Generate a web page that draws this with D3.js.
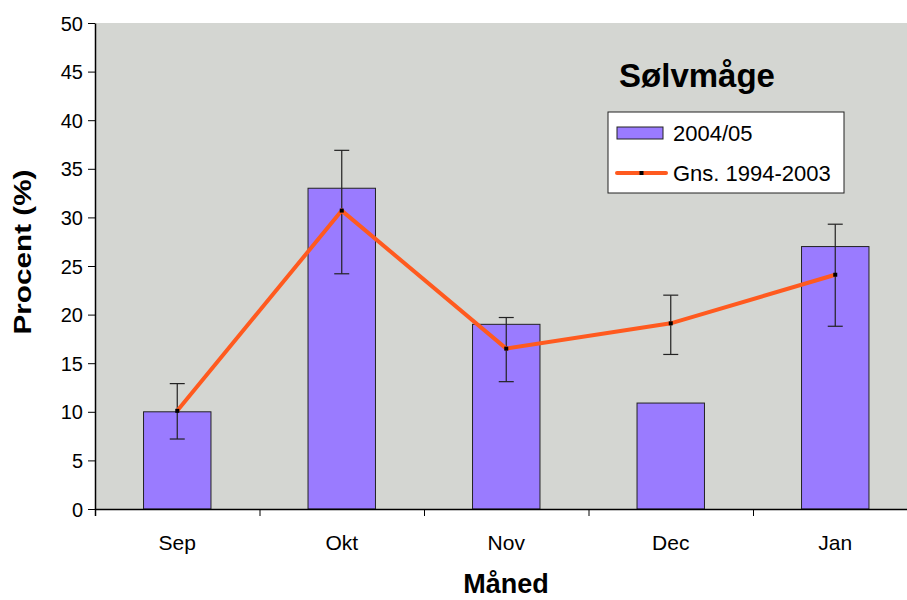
<!DOCTYPE html>
<html>
<head>
<meta charset="utf-8">
<script src="https://cdn.jsdelivr.net/npm/d3@7"></script>
<style>
    body { margin: 0; background: #fff; }
    text { font-family: "Liberation Sans", Arial, sans-serif; fill: #000; }
</style>
</head>
<body>
<svg id="chart" width="907" height="600"></svg>
<script>
// data
const months = ["Sep", "Okt", "Nov", "Dec", "Jan"];
const season = [10, 33, 19, 10.9, 27];          // 2004/05 bars
const mean = [10.1, 30.7, 16.5, 19.1, 24.1];    // Gns. 1994-2003
const errLow = [7.2, 24.2, 13.1, 15.9, 18.8];
const errHigh = [12.9, 36.9, 19.7, 22.0, 29.3];
const yTicks = [0, 5, 10, 15, 20, 25, 30, 35, 40, 45, 50];

const cfg = {
    left: 95,
    right: 917.5,
    top: 23,
    bottom: 509,
    barColor: "#9a7bff",
    lineColor: "#ff5a1f",
    plotBg: "#d4d6d2",
};

const svg = d3.select("#chart");

const x = d3.scaleBand().domain(months).range([cfg.left, cfg.right]);
const y = d3.scaleLinear().domain([0, 50]).range([cfg.bottom, cfg.top]);
const barW = x.bandwidth() * 0.41;
const cx = m => x(m) + x.bandwidth() / 2;

// plot background
svg.append("rect")
    .attr("x", cfg.left)
    .attr("y", cfg.top)
    .attr("width", cfg.right - cfg.left)
    .attr("height", cfg.bottom - cfg.top)
    .attr("fill", cfg.plotBg);

// bars
svg.append("g")
    .selectAll("rect")
    .data(season)
    .join("rect")
    .attr("x", (d, i) => cx(months[i]) - barW / 2)
    .attr("y", d => y(d))
    .attr("width", barW)
    .attr("height", d => y(0) - y(d))
    .attr("fill", cfg.barColor)
    .attr("stroke", "#222")
    .attr("stroke-width", 1);

// error bars
const err = svg.append("g").attr("stroke", "#222").attr("stroke-width", 1.2);
months.forEach((m, i) => {
    err.append("line")
        .attr("x1", cx(m)).attr("x2", cx(m))
        .attr("y1", y(errLow[i])).attr("y2", y(errHigh[i]));
    [errLow[i], errHigh[i]].forEach(v => {
        err.append("line")
            .attr("x1", cx(m) - 7.5).attr("x2", cx(m) + 7.5)
            .attr("y1", y(v)).attr("y2", y(v));
    });
});

// mean line
const line = d3.line()
    .x((d, i) => cx(months[i]))
    .y(d => y(d));
svg.append("path")
    .datum(mean)
    .attr("d", line)
    .attr("fill", "none")
    .attr("stroke", cfg.lineColor)
    .attr("stroke-width", 4);

svg.append("g")
    .selectAll("rect")
    .data(mean)
    .join("rect")
    .attr("x", (d, i) => cx(months[i]) - 2)
    .attr("y", d => y(d) - 2)
    .attr("width", 4)
    .attr("height", 4)
    .attr("fill", "#000");

// y axis
const yAxis = svg.append("g")
    .attr("transform", `translate(${cfg.left},0)`)
    .call(d3.axisLeft(y).tickValues(yTicks).tickSize(7).tickPadding(5).tickSizeOuter(0));
yAxis.select(".domain").attr("stroke", "#000").attr("stroke-width", 1.5);
yAxis.selectAll("text").style("font-size", "20px").attr("dy", "0.35em");

// x axis: ticks between categories, labels centred
const xi = d3.scaleLinear().domain([0, months.length]).range([cfg.left, cfg.right]);
const xAxis = svg.append("g")
    .attr("transform", `translate(0,${cfg.bottom})`)
    .call(d3.axisBottom(xi).tickValues(d3.range(months.length + 1)).tickSize(7).tickFormat(""));
xAxis.select(".domain").attr("stroke", "#000").attr("stroke-width", 1.5);

svg.append("g")
    .selectAll("text")
    .data(months)
    .join("text")
    .attr("x", d => cx(d))
    .attr("y", 550)
    .attr("text-anchor", "middle")
    .style("font-size", "21px")
    .text(d => d);

// axis titles
svg.append("text")
    .attr("transform", "translate(31,252) rotate(-90)")
    .attr("text-anchor", "middle")
    .attr("textLength", 165)
    .attr("lengthAdjust", "spacingAndGlyphs")
    .style("font-size", "24px")
    .style("font-weight", "bold")
    .text("Procent (%)");

svg.append("text")
    .attr("x", 506)
    .attr("y", 593)
    .attr("text-anchor", "middle")
    .style("font-size", "27px")
    .style("font-weight", "bold")
    .text("Måned");

// chart title
svg.append("text")
    .attr("x", 697)
    .attr("y", 87)
    .attr("text-anchor", "middle")
    .style("font-size", "33px")
    .style("font-weight", "bold")
    .text("Sølvmåge");

// legend
const lg = svg.append("g");
lg.append("rect")
    .attr("x", 608).attr("y", 112)
    .attr("width", 236).attr("height", 81)
    .attr("fill", "#fff")
    .attr("stroke", "#222");
lg.append("rect")
    .attr("x", 617).attr("y", 127)
    .attr("width", 46).attr("height", 12)
    .attr("fill", cfg.barColor)
    .attr("stroke", "#222");
lg.append("line")
    .attr("x1", 617).attr("x2", 666)
    .attr("y1", 173).attr("y2", 173)
    .attr("stroke", cfg.lineColor)
    .attr("stroke-width", 4)
    .attr("stroke-linecap", "round");
lg.append("rect")
    .attr("x", 639.5).attr("y", 171)
    .attr("width", 4).attr("height", 4)
    .attr("fill", "#000");
lg.append("text")
    .attr("x", 673).attr("y", 141)
    .style("font-size", "22px")
    .text("2004/05");
lg.append("text")
    .attr("x", 673).attr("y", 181)
    .style("font-size", "22px")
    .text("Gns. 1994-2003");
</script>
</body>
</html>
